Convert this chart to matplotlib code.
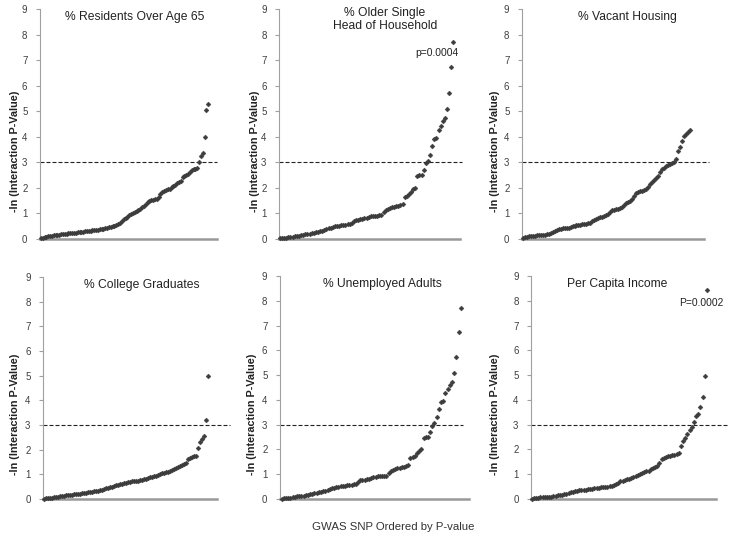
import numpy as np
import matplotlib.pyplot as plt

plt.rcParams['font.family'] = ['Liberation Sans', 'DejaVu Sans']

# -ln(interaction p-value), SNPs sorted by p-value
residents_65 = [
    0.02, 0.04, 0.06, 0.08, 0.10, 0.11, 0.13, 0.14, 0.15, 0.16,
    0.17, 0.18, 0.19, 0.20, 0.21, 0.22, 0.23, 0.24, 0.25, 0.25,
    0.26, 0.27, 0.28, 0.29, 0.30, 0.31, 0.32, 0.33, 0.34, 0.35,
    0.36, 0.37, 0.38, 0.39, 0.40, 0.42, 0.44, 0.46, 0.48, 0.50,
    0.51, 0.53, 0.58, 0.64, 0.72, 0.79, 0.84, 0.88, 0.92, 0.97,
    1.02, 1.06, 1.09, 1.13, 1.19, 1.25, 1.30, 1.38, 1.45, 1.49,
    1.51, 1.53, 1.55, 1.58, 1.66, 1.76, 1.83, 1.88, 1.91, 1.94,
    1.97, 2.02, 2.06, 2.12, 2.20, 2.24, 2.28, 2.42, 2.46, 2.50,
    2.55, 2.62, 2.70, 2.73, 2.75, 2.77, 3.00, 3.25, 3.35, 4.00,
    5.05, 5.28]

older_single = [
    0.02, 0.03, 0.04, 0.05, 0.06, 0.07, 0.09, 0.11, 0.12, 0.13,
    0.14, 0.15, 0.18, 0.20, 0.21, 0.23, 0.25, 0.27, 0.29, 0.31,
    0.33, 0.37, 0.40, 0.43, 0.45, 0.48, 0.50, 0.51, 0.52, 0.54,
    0.55, 0.56, 0.58, 0.60, 0.62, 0.70, 0.75, 0.76, 0.78, 0.80,
    0.81, 0.83, 0.87, 0.90, 0.91, 0.91, 0.91, 0.92, 0.93, 1.05,
    1.12, 1.18, 1.22, 1.25, 1.26, 1.28, 1.30, 1.33, 1.38, 1.65,
    1.70, 1.75, 1.85, 1.95, 2.00, 2.48, 2.50, 2.52, 2.70, 2.96,
    3.05, 3.30, 3.64, 3.90, 3.94, 4.27, 4.42, 4.62, 4.72, 5.07,
    5.73, 6.72, 7.70]

vacant_housing = [
    0.05, 0.07, 0.09, 0.10, 0.11, 0.12, 0.13, 0.14, 0.15, 0.15,
    0.16, 0.17, 0.18, 0.20, 0.25, 0.29, 0.33, 0.37, 0.40, 0.41,
    0.42, 0.43, 0.44, 0.45, 0.47, 0.49, 0.51, 0.53, 0.55, 0.56,
    0.57, 0.58, 0.59, 0.61, 0.63, 0.70, 0.76, 0.80, 0.84, 0.86,
    0.88, 0.90, 0.93, 0.97, 1.05, 1.12, 1.14, 1.16, 1.18, 1.20,
    1.25, 1.32, 1.40, 1.45, 1.50, 1.58, 1.68, 1.80, 1.85, 1.88,
    1.89, 1.91, 1.95, 2.05, 2.15, 2.22, 2.30, 2.38, 2.46, 2.62,
    2.72, 2.78, 2.84, 2.88, 2.92, 2.96, 3.00, 3.15, 3.45, 3.60,
    3.85, 4.05, 4.12, 4.18, 4.27]

college_grads = [
    0.02, 0.03, 0.04, 0.05, 0.06, 0.07, 0.08, 0.09, 0.11, 0.13,
    0.14, 0.15, 0.16, 0.17, 0.18, 0.19, 0.20, 0.21, 0.22, 0.23,
    0.24, 0.26, 0.28, 0.29, 0.30, 0.31, 0.32, 0.33, 0.35, 0.38,
    0.41, 0.44, 0.46, 0.48, 0.50, 0.52, 0.55, 0.58, 0.60, 0.62,
    0.63, 0.65, 0.67, 0.70, 0.72, 0.73, 0.74, 0.75, 0.76, 0.78,
    0.80, 0.83, 0.86, 0.88, 0.91, 0.93, 0.95, 0.98, 1.02, 1.05,
    1.07, 1.09, 1.11, 1.14, 1.18, 1.22, 1.27, 1.31, 1.35, 1.39,
    1.42, 1.46, 1.62, 1.67, 1.71, 1.73, 1.75, 2.05, 2.30, 2.45,
    2.55, 3.22, 5.00]

# this panel shows the same values as "% Older Single Head of Household"
unemployed = list(older_single)

per_capita_income = [
    0.02, 0.04, 0.05, 0.06, 0.07, 0.07, 0.08, 0.08, 0.09, 0.10,
    0.11, 0.13, 0.15, 0.16, 0.17, 0.19, 0.21, 0.24, 0.27, 0.30,
    0.32, 0.34, 0.35, 0.36, 0.37, 0.38, 0.39, 0.40, 0.42, 0.44,
    0.45, 0.46, 0.47, 0.48, 0.49, 0.50, 0.51, 0.52, 0.55, 0.60,
    0.66, 0.71, 0.74, 0.78, 0.80, 0.82, 0.84, 0.87, 0.91, 0.95,
    0.99, 1.03, 1.07, 1.11, 1.15, 1.20, 1.24, 1.29, 1.34, 1.45,
    1.60, 1.66, 1.69, 1.72, 1.74, 1.76, 1.78, 1.80, 1.85, 2.15,
    2.35, 2.45, 2.62, 2.78, 2.92, 3.10, 3.35, 3.42, 3.72, 4.10,
    4.97, 8.42]

titles = ["% Residents Over Age 65", "% Older Single\nHead of Household",
          "% Vacant Housing", "% College Graduates",
          "% Unemployed Adults", "Per Capita Income"]
series = [residents_65, older_single, vacant_housing,
          college_grads, unemployed, per_capita_income]

# axes rectangles in pixels: left, bottom(y of 0), right, top(y of 9)
W, H = 730, 540
boxes = [(40, 239, 217, 9), (279, 239, 460, 9), (522, 239, 704, 9),
         (43, 499, 217, 277), (280, 499, 469, 276), (531, 499, 716, 276)]
# fraction of axis width where first / last point sits
spans = [(0.005, 0.951), (0.005, 0.963), (0.005, 0.921),
         (0.008, 0.950), (0.009, 0.956), (0.004, 0.951)]
title_x = [0.537, 0.586, 0.577, 0.569, 0.54, 0.465]
title_y = [0.965, 0.955, 0.965, 0.964, 0.964, 0.964]
ylabel_x = [-0.141, -0.133, -0.148, -0.16, -0.148, -0.195]
dash_end = [1.0, 1.01, 1.03, 1.075, 0.967, 1.065]

fig = plt.figure(figsize=(W / 100, H / 100), dpi=100)

for i in range(6):
    l, b, r, t = boxes[i]
    ax = fig.add_axes([l / W, 1 - b / H, (r - l) / W, (b - t) / H])
    y = np.array(series[i])
    x = np.arange(1, len(y) + 1)
    f0, f1 = spans[i]
    width = (len(y) - 1) / (f1 - f0)
    left = 1 - f0 * width
    ax.set_xlim(left, left + width)
    ax.set_ylim(0, 9)
    ax.plot(x, y, 'D', ms=2.5, color='#3c3c3c', mec='#3c3c3c', mew=0.3,
            clip_on=False, zorder=3)
    ax.axhline(3, xmin=0, xmax=dash_end[i], color='#222222', lw=0.8,
               ls=(0, (3.6, 1.8)), clip_on=False)

    for s in ['top', 'right']:
        ax.spines[s].set_visible(False)
    ax.spines['left'].set_color('#a0a0a0')
    ax.spines['left'].set_linewidth(0.8)
    ax.spines['bottom'].set_color('#999999')
    ax.spines['bottom'].set_linewidth(1.8)
    ax.set_xticks([])
    ax.set_yticks(range(10))
    ax.tick_params(axis='y', length=3, width=0.8, color='#a0a0a0',
                   labelsize=7, labelcolor='#404040', pad=6)

    ax.text(title_x[i], title_y[i], titles[i], transform=ax.transAxes,
            ha='center', va='center', fontsize=8.7, color='#222222',
            linespacing=1.1)
    ax.text(ylabel_x[i], 0.38, "-ln (Interaction P-Value)",
            transform=ax.transAxes, rotation=90, ha='center', va='center',
            fontsize=7.8, fontweight='bold', color='#222222')

fig.axes[1].text(0.99, 7.28, "p=0.0004",
                 transform=fig.axes[1].get_yaxis_transform(),
                 ha='right', va='center', fontsize=7.4, color='#222222')
fig.axes[5].text(1.04, 7.9, "P=0.0002",
                 transform=fig.axes[5].get_yaxis_transform(),
                 ha='right', va='center', fontsize=7.4, color='#222222',
                 clip_on=False)

fig.text(393 / W, 1 - 527 / H, "GWAS SNP Ordered by P-value",
         ha='center', va='center', fontsize=8.2, color='#333333')

fig.savefig("out.png", dpi=100)
